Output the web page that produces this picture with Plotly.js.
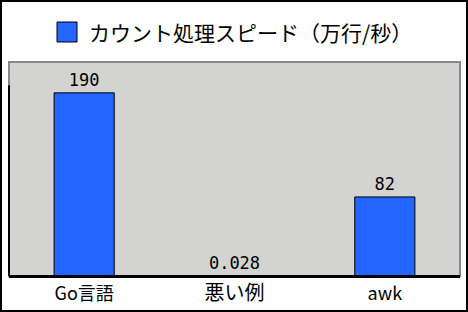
<!DOCTYPE html>
<html><head><meta charset="utf-8">
<script src="https://cdn.plot.ly/plotly-3.0.1.min.js"></script>
<style>
html,body{margin:0;padding:0;background:#fff;}
#wrap{position:relative;width:468px;height:312px;}
#chart{width:468px;height:312px;}
#frame{position:absolute;left:0;top:0;width:464px;height:308px;border:2px solid #000;pointer-events:none;}
</style></head>
<body>
<div id="wrap"><div id="chart"></div><div id="frame"></div></div>
<script>
const categories = ['Go言語', '悪い例', 'awk'];
const speeds = [190, 0.028, 82];
const valueLabels = ['190', '0.028', '82'];
const seriesName = 'カウント処理スピード（万行/秒）';

const trace = {
  type: 'bar',
  x: categories,
  y: speeds,
  text: valueLabels,
  textposition: 'outside',
  cliponaxis: false,
  textfont: {family: 'DejaVu Sans Mono', size: 17, color: '#000'},
  marker: {color: '#2266ff', line: {color: '#000', width: 1}},
  name: seriesName,
  showlegend: false,
  hoverinfo: 'none'
};

const tickText = categories.map((c, i) => i === 1 ? '<span style="font-size:20px">' + c + '</span>' : c);

const layout = {
  width: 468, height: 312,
  margin: {l: 9, r: 8, t: 62, b: 36},
  paper_bgcolor: '#ffffff',
  plot_bgcolor: '#d3d3d1',
  bargap: 0.6,
  font: {family: 'Noto Sans CJK JP', color: '#000'},
  xaxis: {
    type: 'category',
    tickvals: categories, ticktext: tickText,
    tickfont: {family: 'Noto Sans CJK JP', size: 18, color: '#000'},
    showline: true, linecolor: '#000', linewidth: 2,
    ticks: '', showgrid: false, zeroline: false, fixedrange: true
  },
  yaxis: {
    range: [0, 222], showticklabels: false, showgrid: false,
    zeroline: false, ticks: '', showline: false, fixedrange: true
  },
  shapes: [
    {type: 'rect', xref: 'paper', yref: 'paper', x0: 0, x1: 1, y0: 0, y1: 1,
     line: {color: '#888', width: 2}, fillcolor: 'rgba(0,0,0,0)', layer: 'above'},
    {type: 'line', xref: 'paper', yref: 'y', x0: 0, x1: 0, y0: 0, y1: 198,
     line: {color: '#000', width: 2}, layer: 'above'},
    {type: 'line', xref: 'paper', yref: 'paper', x0: 0, x1: 1, y0: 0, y1: 0,
     line: {color: '#000', width: 2}, layer: 'above'},
    {type: 'rect', xref: 'paper', yref: 'paper',
     x0: (57 - 9) / 451, x1: (77 - 9) / 451,
     y0: (274 - 40) / 214, y1: (274 - 20) / 214,
     line: {color: '#000', width: 1}, fillcolor: '#2266ff'}
  ],
  annotations: [
    {xref: 'paper', yref: 'paper', x: (87 - 9) / 451, y: (274 - 30) / 214,
     xanchor: 'left', yanchor: 'middle', showarrow: false,
     text: seriesName, font: {family: 'Noto Sans CJK JP', size: 21, color: '#000'}}
  ]
};

Plotly.newPlot('chart', [trace], layout, {displayModeBar: false, staticPlot: true});
</script>
</body></html>
